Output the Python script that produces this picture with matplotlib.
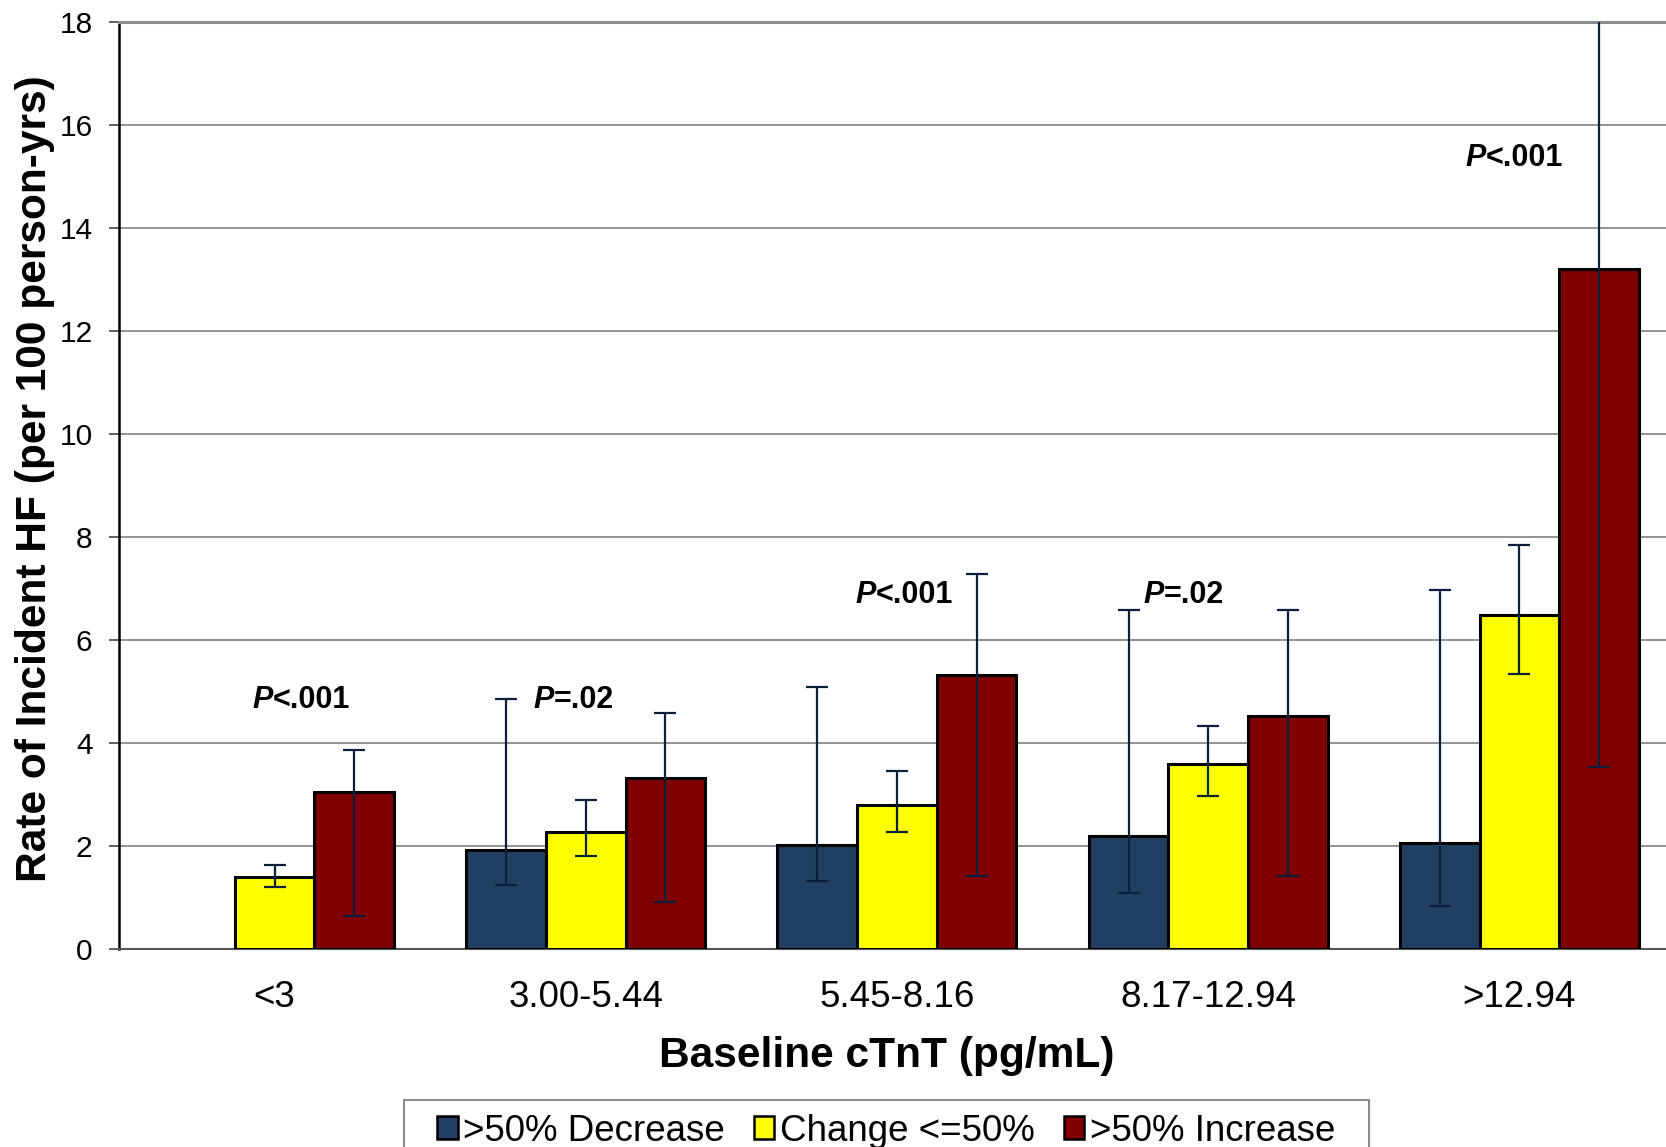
import numpy as np
import matplotlib
matplotlib.use('Agg')
from matplotlib import pyplot as plt
from matplotlib.patches import Patch, Rectangle
from matplotlib.offsetbox import TextArea, HPacker, AnnotationBbox

plt.rcParams['font.family'] = ['Liberation Sans', 'DejaVu Sans']

# Data
categories = ['<3', '3.00-5.44', '5.45-8.16', '8.17-12.94', '>12.94']
series = ['>50% Decrease', 'Change <=50%', '>50% Increase']

decrease = [np.nan, 1.92, 2.02, 2.19, 2.05]
decrease_lo = [np.nan, 1.25, 1.33, 1.09, 0.84]
decrease_hi = [np.nan, 4.85, 5.08, 6.58, 6.98]

change = [1.39, 2.28, 2.79, 3.59, 6.48]
change_lo = [1.20, 1.81, 2.27, 2.97, 5.35]
change_hi = [1.64, 2.89, 3.46, 4.33, 7.84]

increase = [3.05, 3.33, 5.32, 4.52, 13.20]
increase_lo = [0.65, 0.91, 1.42, 1.41, 3.54]
increase_hi = [3.86, 4.58, 7.28, 6.58, 22.9]

p_labels = ['<.001', '=.02', '<.001', '=.02', '<.001']
# annotation placement (x offset from group centre, y in data units)
p_dx = [0.085, -0.038, 0.024, -0.078, -0.017]
p_y = [4.84, 4.84, 6.88, 6.88, 15.36]

colors = ['#213F61', '#FFFF00', '#800000']
err_color = '#0C1F3A'

fig = plt.figure(figsize=(16.66, 11.47), dpi=100)
ax = fig.add_axes([0.0714, 0.1726, 0.934, 0.8082])

x = np.arange(len(categories))
w = 0.256
groups = [(decrease, decrease_lo, decrease_hi),
          (change, change_lo, change_hi),
          (increase, increase_lo, increase_hi)]

for i, (vals, lo, hi) in enumerate(groups):
    vals = np.array(vals)
    pos = x + (i - 1) * w
    ax.bar(pos, vals, width=w, color=colors[i], edgecolor='black',
           linewidth=2.2, zorder=3)
    yerr = np.vstack([vals - np.array(lo), np.array(hi) - vals])
    ax.errorbar(pos, vals, yerr=yerr, fmt='none', ecolor=err_color,
                elinewidth=1.6, capsize=8, capthick=1.6, zorder=4)

# P-value annotations, P in bold italic
for i, lab in enumerate(p_labels):
    tp = TextArea('P', textprops=dict(fontsize=22, fontweight='bold',
                                      fontstyle='italic', color='black'))
    tr = TextArea(lab, textprops=dict(fontsize=22, fontweight='bold',
                                      color='black'))
    box = HPacker(children=[tp, tr], pad=0, sep=0, align='baseline')
    ab = AnnotationBbox(box, (x[i] + p_dx[i], p_y[i]), frameon=False,
                        box_alignment=(0.5, 0.5), pad=0)
    ax.add_artist(ab)

ax.set_xlim(-0.5, len(categories) - 0.5)
ax.set_ylim(0, 18)
ax.set_yticks(np.arange(0, 19, 2))
ax.set_xticks(x)
ax.set_xticklabels(categories)
ax.tick_params(axis='x', length=0, pad=22.5, labelsize=26.5)
ax.tick_params(axis='y', length=7, width=1.2, direction='out', pad=12,
               labelsize=21.5, color='#444444')

ax.yaxis.grid(True, color='#808080', linewidth=1.2, zorder=0)
ax.set_axisbelow(True)
ax.spines['left'].set_color('black')
ax.spines['left'].set_linewidth(1.8)
ax.spines['bottom'].set_color('#555555')
ax.spines['bottom'].set_linewidth(1.5)
ax.spines['top'].set_color('#8c8c8c')
ax.spines['top'].set_linewidth(2.2)
ax.spines['right'].set_visible(False)

ax.text(-0.054, 0.507, 'Rate of Incident HF (per 100 person-yrs)',
        transform=ax.transAxes, rotation=90, ha='center', va='center',
        fontsize=30.6, fontweight='bold')
fig.text(0.532, 0.0795, 'Baseline cTnT (pg/mL)', ha='center', va='center',
         fontsize=30.6, fontweight='bold')

handles = [Patch(facecolor=c, edgecolor='black', linewidth=1.8) for c in colors]
leg = fig.legend(handles, series, loc='upper center', ncol=3,
                 bbox_to_anchor=(0.532, 0.042), fontsize=26.5,
                 frameon=False, borderpad=0.4,
                 handlelength=0.55, handleheight=0.55, handletextpad=0.15,
                 columnspacing=0.8, borderaxespad=0)
# legend box runs off the bottom edge like in the original
fig.patches.append(Rectangle((404 / 1666, -0.02), 965 / 1666, 0.061,
                             transform=fig.transFigure, fill=False,
                             edgecolor='#8c8c8c', linewidth=1.5))

fig.savefig('out.png', dpi=100)
